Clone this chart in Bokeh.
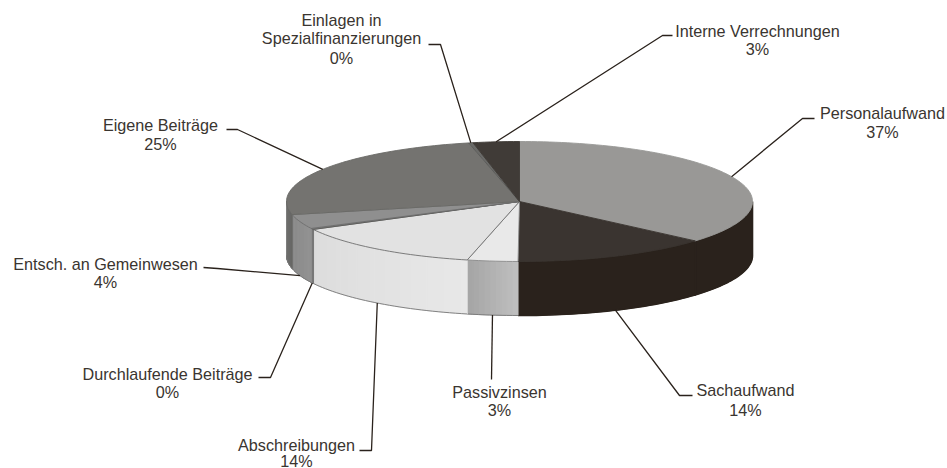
from math import sin, cos, radians
from bokeh.plotting import figure
from bokeh.models import Range1d
from bokeh.embed import file_html
from bokeh.resources import INLINE
from bokeh.core.properties import value

# Data, clockwise from 12 o'clock
categories = ["Personalaufwand", "Sachaufwand", "Passivzinsen", "Abschreibungen",
              "Durchlaufende Beiträge", "Entsch. an Gemeinwesen", "Eigene Beiträge",
              "Einlagen in\nSpezialfinanzierungen", "Interne Verrechnungen"]
shares = [36.4, 13.7, 3.5, 13.7, 0.3, 3.9, 25.0, 0.3, 3.2]
share_labels = ["37%", "14%", "3%", "14%", "0%", "4%", "25%", "0%", "3%"]

# Styles
top_colors = ["#999896", "#3a3430", "#e9e9e9", "#e2e2e2", "#8a8a88", "#8f8f8f", "#747370", "#6a6a68", "#403b37"]
top_lines = ["#999896", "#3a3430", "#8a8a8a", "#6e6e6e", "#5a5a58", "#6e6e6e", "#6a6a66", "#5a5a58", "#403b37"]
side_from = [(42, 34, 28), (42, 34, 28), (192, 192, 192), (232, 232, 232), (120, 120, 120), (146, 146, 146), (104, 104, 102), (90, 90, 90), (64, 59, 55)]
side_to = [(42, 34, 28), (42, 34, 28), (164, 164, 164), (220, 220, 220), (120, 120, 120), (138, 138, 138), (112, 112, 110), (90, 90, 90), (64, 59, 55)]
text_color = "#3a3530"
font = value("Liberation Sans")
font_px = 16.2

# Layout (page pixels)
CX, CY, RX, RY, DEPTH = 519, 201, 233, 60, 54
label_pos = [(882, [112, 131]), (745, [389, 409]), (499, [391, 409]), (296, [444, 460]), (167, [373, 391]),
             (105, [263, 281]), (160, [124, 143]), (341, [19, 37, 57]), (757, [30, 48])]
elbows = [[(802, 118), (814, 118)], [(679, 395), (692, 395)], [(491, 379)], [(371, 450), (359, 450)],
          [(270, 377), (258, 377)], [(217, 268), (203, 267)], [(237, 129), (226, 129)],
          [(440, 44), (428, 44)], [(662, 35), (672, 35)]]


def rim(deg, drop=0.0):
    a = radians(deg)
    return CX + RX * sin(a), CY - RY * cos(a) + drop


def steps(a0, a1, step=1.5):
    n = max(2, int((a1 - a0) / step) + 2)
    return [a0 + (a1 - a0) * i / (n - 1) for i in range(n)]


p = figure(width=947, height=468, output_backend="svg", toolbar_location=None,
           x_range=Range1d(0, 947), y_range=Range1d(468, 0), min_border=0, outline_line_color=None)
p.axis.visible = False
p.grid.visible = False

# slice angles
edges = [0.0]
for s in shares:
    edges.append(edges[-1] + s * 3.6)
total = edges[-1]
edges = [e * 360 / total for e in edges]

# front wall
for i in range(len(shares)):
    a0, a1 = max(edges[i], 90), min(edges[i + 1], 270)
    if a1 <= a0:
        continue
    grid = steps(a0, a1)
    if side_from[i] == side_to[i]:
        pts = [rim(a) for a in grid] + [rim(a, DEPTH) for a in reversed(grid)]
        c = "#%02x%02x%02x" % side_from[i]
        p.patch([q[0] for q in pts], [q[1] for q in pts], fill_color=c, line_color=c, line_width=1.6)
    else:
        xs, ys, cols = [], [], []
        for j in range(len(grid) - 1):
            t = (j + 0.5) / (len(grid) - 1)
            c = tuple(round(side_from[i][k] + (side_to[i][k] - side_from[i][k]) * t) for k in range(3))
            cols.append("#%02x%02x%02x" % c)
            pts = [rim(grid[j]), rim(grid[j + 1]), rim(grid[j + 1], DEPTH), rim(grid[j], DEPTH)]
            xs.append([q[0] for q in pts])
            ys.append([q[1] for q in pts])
        p.patches(xs, ys, fill_color=cols, line_color=cols, line_width=1.0)
    lo = [rim(a, DEPTH) for a in grid]
    p.line([q[0] for q in lo], [q[1] for q in lo], line_color="#777777" if i > 1 else "#2a221c", line_width=0.9)
    # vertical seam between wall pieces
    if i >= 2:
        q0, q1 = rim(a1), rim(a1, DEPTH)
        p.line([q0[0], q1[0]], [q0[1], q1[1]], line_color="#7d7d7d", line_width=1.0)

# top faces
for i in range(len(shares)):
    grid = steps(edges[i], edges[i + 1])
    pts = [(CX, CY)] + [rim(a) for a in grid]
    p.patch([q[0] for q in pts], [q[1] for q in pts], fill_color=top_colors[i],
            line_color=top_lines[i], line_width=0.9)

# leader lines
for i in range(len(shares)):
    mid = (edges[i] + edges[i + 1]) / 2
    drop = DEPTH if 90 < mid < 270 else 0
    pts = [rim(mid, drop)] + elbows[i]
    p.line([q[0] for q in pts], [q[1] for q in pts], line_color="#2a221c", line_width=1.3)

# labels
tx, ty, tt = [], [], []
for cat, lab, (x, ys_) in zip(categories, share_labels, label_pos):
    for y, line in zip(ys_, cat.split("\n") + [lab]):
        tx.append(x)
        ty.append(y)
        tt.append(line)
p.text(tx, ty, text=tt, text_font=font, text_font_size=f"{font_px}px", text_color=text_color,
       text_align="center", text_baseline="middle")

open("out.html", "w").write(file_html(p, INLINE))
